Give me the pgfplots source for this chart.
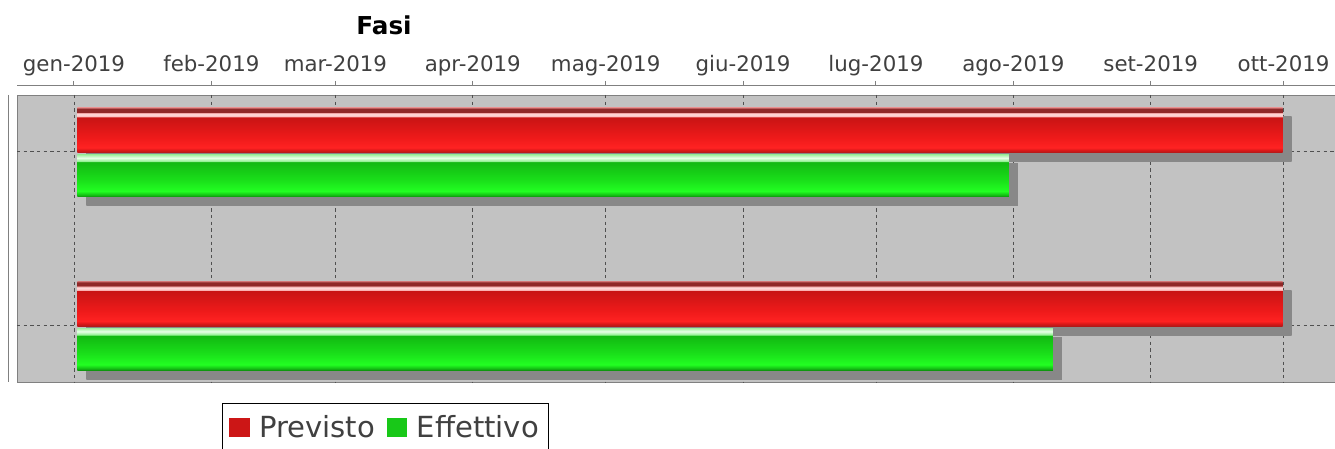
\documentclass[border=0pt]{standalone}
\usepackage{fontspec}
\setmainfont{DejaVu Sans}
\usepackage{pgfplots}
\pgfplotsset{compat=1.18}

\definecolor{plotbg}{HTML}{C2C2C2}
\definecolor{gridc}{HTML}{505050}
\definecolor{axgray}{HTML}{808080}
\definecolor{shadowc}{HTML}{888888}
\definecolor{ticktext}{HTML}{404040}
\definecolor{legred}{HTML}{CC1616}
\definecolor{leggreen}{HTML}{18C818}
% red bar shading colours
\definecolor{rA}{HTML}{B01A1A}
\definecolor{rB}{HTML}{D81818}
\definecolor{rC}{HTML}{FF2222}
\definecolor{rD}{HTML}{EE1A1A}
\definecolor{rE}{HTML}{C81414}
\definecolor{rF}{HTML}{FFC0C0}
\definecolor{rG}{HTML}{FFDCDC}
\definecolor{rH}{HTML}{F0A0A0}
\definecolor{rI}{HTML}{902828}
\definecolor{rJ}{HTML}{C06060}
% green bar shading colours
\definecolor{gA}{HTML}{0C8C0C}
\definecolor{gB}{HTML}{14C014}
\definecolor{gC}{HTML}{22FF22}
\definecolor{gD}{HTML}{1AE01A}
\definecolor{gE}{HTML}{12B812}
\definecolor{gF}{HTML}{90F090}
\definecolor{gG}{HTML}{E8FFE8}
\definecolor{gH}{HTML}{A8F0A8}

\pgfdeclareverticalshading{redbar}{100bp}{color(0bp)=(rA); color(25bp)=(rA); color(27.5bp)=(rB); color(30.5bp)=(rC); color(42bp)=(rD); color(64.5bp)=(rE); color(65.5bp)=(rF); color(68bp)=(rG); color(69.5bp)=(rH); color(70.3bp)=(rI); color(73.8bp)=(rI); color(75bp)=(rJ); color(100bp)=(rJ)}
\pgfdeclareverticalshading{greenbar}{100bp}{color(0bp)=(gA); color(25bp)=(gA); color(27.5bp)=(gB); color(32bp)=(gC); color(45bp)=(gD); color(66.5bp)=(gE); color(67.5bp)=(gF); color(71.5bp)=(gG); color(75bp)=(gH); color(100bp)=(gH)}

\tikzset{barshadow/.style={preaction={top color=shadowc, bottom color=shadowc, transform canvas={shift={(6.75pt,-6.75pt)}}}}}

\begin{document}
\begin{tikzpicture}
\path[use as bounding box] (0,0) rectangle (1001.25pt,336.75pt);
\begin{axis}[
  at={(12.75pt,50.25pt)}, anchor=south west,
  scale only axis, width=988.5pt, height=215.25pt,
  xmin=-12.86, xmax=284.6,
  ymin=-0.3256, ymax=1.3285, y dir=reverse,
  axis background/.style={fill=plotbg, draw=axgray, line width=0.6pt},
  axis x line*=top, axis y line*=left,
  axis x line shift=6.75pt, axis y line shift=6.75pt,
  axis line style={draw=axgray, line width=0.75pt, -},
  xtick={0,31,59,90,120,151,181,212,243,273},
  xticklabels={gen-2019,feb-2019,mar-2019,apr-2019,mag-2019,giu-2019,lug-2019,ago-2019,set-2019,ott-2019},
  ytick={0,1}, yticklabels={},
  ytick style={draw=none},
  xtick style={draw=axgray, line width=0.75pt},
  tick align=outside, major tick length=3.75pt,
  xticklabel style={font=\fontsize{16pt}{18pt}\selectfont, text=ticktext, text depth=0pt, yshift=3.5pt},
  xmajorgrids, ymajorgrids,
  major grid style={draw=gridc, line width=0.6pt, dash pattern=on 2.5pt off 2.5pt},
  title={Fasi},
  title style={at={(0.2785,1.216)}, anchor=center, font=\fontsize{18.5pt}{20pt}\selectfont\bfseries},
  legend columns=2,
  legend style={at={(0.1555,-0.0721)}, anchor=north west, draw=black, line width=1.1pt, fill=white,
    font=\fontsize{21.8pt}{24pt}\selectfont, text=ticktext, inner xsep=5pt, inner ysep=7pt,
    /tikz/every odd column/.append style={column sep=5pt},
    /tikz/every even column/.append style={column sep=7pt}},
]
% Previsto (red) and Effettivo (green): start/end in days from 1 Jan 2019
\addplot[forget plot, draw=none, barshadow, shade, shading=redbar]
  coordinates {(0.74,-0.251) (272.8,-0.251) (272.8,0.006) (0.74,0.006)} -- cycle;
\addplot[forget plot, draw=none, barshadow, shade, shading=greenbar]
  coordinates {(0.74,0.02) (211.0,0.02) (211.0,0.262) (0.74,0.262)} -- cycle;
\addplot[forget plot, draw=none, barshadow, shade, shading=redbar]
  coordinates {(0.74,0.749) (272.8,0.749) (272.8,1.006) (0.74,1.006)} -- cycle;
\addplot[forget plot, draw=none, barshadow, shade, shading=greenbar]
  coordinates {(0.74,1.02) (220.9,1.02) (220.9,1.262) (0.74,1.262)} -- cycle;
\addlegendimage{legend image code/.code={\fill[legred] (0pt,-6.75pt) rectangle (14.25pt,6.75pt);}}
\addlegendentry{Previsto}
\addlegendimage{legend image code/.code={\fill[leggreen] (0pt,-6.75pt) rectangle (14.25pt,6.75pt);}}
\addlegendentry{Effettivo}
\end{axis}
\end{tikzpicture}
\end{document}
